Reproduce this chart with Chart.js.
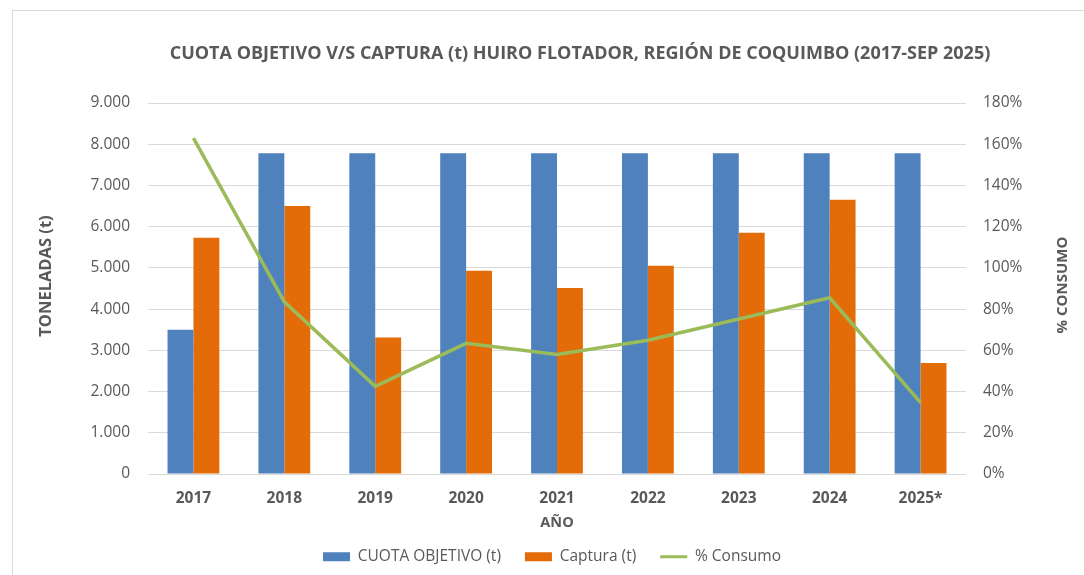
<!DOCTYPE html>
<html>
<head>
<meta charset="utf-8">
<script src="https://cdn.jsdelivr.net/npm/chart.js@4/dist/chart.umd.min.js"></script>
<style>
  html, body { margin: 0; padding: 0; background: #fff; }
  #wrap { position: relative; width: 1084px; height: 575px; }
</style>
</head>
<body>
<div id="wrap"><canvas id="c" width="1084" height="575"></canvas></div>
<script>
const categories = ['2017', '2018', '2019', '2020', '2021', '2022', '2023', '2024', '2025*'];
const cuotaObjetivo = [3500, 7780, 7780, 7780, 7780, 7780, 7780, 7780, 7780];
const captura = [5730, 6500, 3310, 4930, 4515, 5050, 5850, 6650, 2690];
const consumo = [1.63, 0.835, 0.425, 0.634, 0.58, 0.649, 0.752, 0.855, 0.346];
const leftTicks = [0, 1000, 2000, 3000, 4000, 5000, 6000, 7000, 8000, 9000];
const rightTicks = [0, 0.2, 0.4, 0.6, 0.8, 1.0, 1.2, 1.4, 1.6, 1.8];

const chartTitle = 'CUOTA OBJETIVO V/S CAPTURA (t) HUIRO FLOTADOR, REGIÓN DE COQUIMBO (2017-SEP 2025)';
const leftTitle = 'TONELADAS (t)';
const rightTitle = '% CONSUMO';
const xTitle = 'AÑO';

const FONT = '"Open Sans", "Noto Sans", sans-serif';
const GRAY = '#595959';

const fmtThousands = v => {
  const s = Math.round(v).toString();
  return s.replace(/\B(?=(\d{3})+(?!\d))/g, '.');
};

const extras = {
  id: 'extras',
  beforeDraw(chart) {
    const ctx = chart.ctx;
    ctx.save();
    ctx.strokeStyle = '#D9D9D9';
    ctx.lineWidth = 1;
    ctx.strokeRect(12.5, 10.5, 1080, 570);
    ctx.restore();
  },
  afterDraw(chart) {
    const ctx = chart.ctx;
    const a = chart.chartArea;
    ctx.save();
    ctx.fillStyle = GRAY;
    ctx.textAlign = 'center';
    ctx.textBaseline = 'middle';
    // main title
    ctx.font = 'bold 18px ' + FONT;
    ctx.fillText(chartTitle, 580, 54);
    // y left title
    ctx.font = 'bold 16.5px ' + FONT;
    ctx.save();
    ctx.translate(46, 276);
    ctx.rotate(-Math.PI / 2);
    ctx.fillText(leftTitle, 0, 0);
    ctx.restore();
    // y right title
    ctx.font = 'bold 15px ' + FONT;
    ctx.save();
    ctx.translate(1063, 285);
    ctx.rotate(-Math.PI / 2);
    ctx.fillText(rightTitle, 0, 0);
    ctx.restore();
    // x title
    ctx.font = 'bold 14.5px ' + FONT;
    ctx.fillText(xTitle, (a.left + a.right) / 2, 523);
    ctx.restore();
  }
};

new Chart(document.getElementById('c'), {
  type: 'bar',
  data: {
    labels: categories,
    datasets: [
      {
        label: 'CUOTA OBJETIVO (t)',
        data: cuotaObjetivo,
        backgroundColor: '#4F81BD',
        borderWidth: 0,
        yAxisID: 'y',
        order: 2,
        pointStyle: 'rect'
      },
      {
        label: 'Captura (t)',
        data: captura,
        backgroundColor: '#E36C09',
        borderWidth: 0,
        yAxisID: 'y',
        order: 2,
        pointStyle: 'rect'
      },
      {
        type: 'line',
        label: '% Consumo',
        data: consumo,
        borderColor: '#9BBB59',
        backgroundColor: '#9BBB59',
        borderWidth: 3.5,
        pointRadius: 0,
        pointHoverRadius: 0,
        pointBorderWidth: 3,
        pointStyle: 'line',
        tension: 0,
        yAxisID: 'y1',
        order: 0
      }
    ]
  },
  options: {
    responsive: false,
    animation: false,
    devicePixelRatio: 1,
    layout: { padding: { left: 20, right: 0, top: 103, bottom: 0.5 } },
    datasets: {
      bar: { categoryPercentage: 0.57, barPercentage: 1.0 }
    },
    plugins: {
      tooltip: { enabled: false },
      title: { display: false },
      legend: {
        position: 'bottom',
        labels: {
          color: GRAY,
          font: { family: FONT, size: 15.5 },
          usePointStyle: true,
          pointStyleWidth: 27,
          boxHeight: 9,
          padding: 24,
          sort: (a, b) => a.datasetIndex - b.datasetIndex
        }
      }
    },
    scales: {
      x: {
        grid: { display: false, drawTicks: false },
        border: { display: false },
        ticks: {
          color: GRAY,
          font: { family: FONT, size: 15.5, weight: 'bold' },
          padding: 15,
          maxRotation: 0
        },
        afterFit(s) { s.height = 51; }
      },
      y: {
        position: 'left',
        min: 0,
        max: 9000,
        afterBuildTicks(s) { s.ticks = leftTicks.map(v => ({ value: v })); },
        grid: { color: '#D9D9D9', lineWidth: 1, drawTicks: false },
        border: { display: false },
        ticks: {
          color: GRAY,
          font: { family: FONT, size: 15.5 },
          padding: 18,
          callback: v => fmtThousands(v)
        },
        afterFit(s) { s.width = 128; }
      },
      y1: {
        position: 'right',
        min: 0,
        max: 1.8,
        afterBuildTicks(s) { s.ticks = rightTicks.map(v => ({ value: v })); },
        grid: { display: false, drawTicks: false },
        border: { display: false },
        ticks: {
          color: GRAY,
          font: { family: FONT, size: 15.5 },
          padding: 17,
          callback: v => Math.round(v * 100) + '%'
        },
        afterFit(s) { s.width = 118; }
      }
    }
  },
  plugins: [extras]
});
</script>
</body>
</html>
